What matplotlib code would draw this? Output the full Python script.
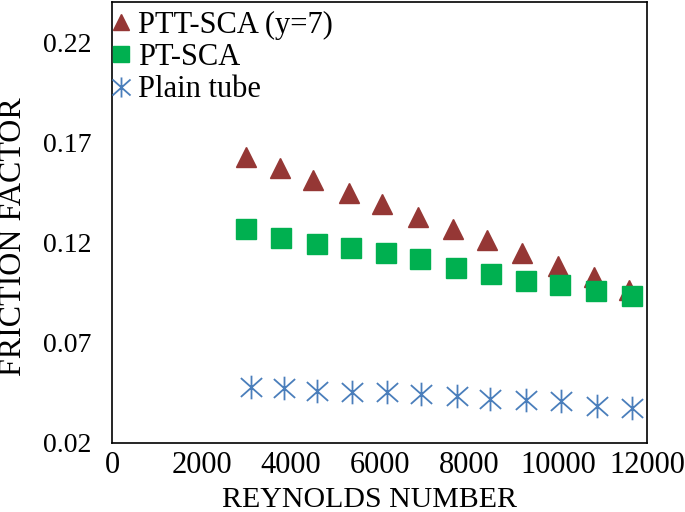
import matplotlib

matplotlib.use("Agg")

import matplotlib.pyplot as plt
from matplotlib.path import Path

# Reynolds numbers and friction factors
re_ptt = [3000, 3750, 4500, 5300, 6050, 6850, 7650, 8400, 9200, 10000, 10800, 11600]
f_ptt = [0.1625, 0.157, 0.151, 0.1445, 0.139, 0.1325, 0.1265, 0.121, 0.115, 0.1085, 0.103, 0.0965]

re_pt = [3000, 3780, 4580, 5350, 6130, 6900, 7700, 8500, 9280, 10050, 10850, 11650]
f_pt = [0.1265, 0.122, 0.1195, 0.1175, 0.115, 0.112, 0.1075, 0.1045, 0.101, 0.099, 0.096, 0.0935]

re_plain = [3100, 3850, 4600, 5370, 6150, 6920, 7720, 8480, 9270, 10060, 10860, 11650]
f_plain = [0.048, 0.0475, 0.046, 0.0455, 0.0455, 0.0445, 0.0435, 0.042, 0.0415, 0.041, 0.0385, 0.0375]

x_ticks = [0, 2000, 4000, 6000, 8000, 10000, 12000]
y_ticks = [0.02, 0.07, 0.12, 0.17, 0.22]

# Excel-style star: vertical bar plus an X
STAR = Path(
    [(0, -1), (0, 1), (-0.9, -0.8), (0.9, 0.8), (-0.9, 0.8), (0.9, -0.8)],
    [Path.MOVETO, Path.LINETO, Path.MOVETO, Path.LINETO, Path.MOVETO, Path.LINETO],
)

plt.rcParams["font.family"] = ["Liberation Serif", "DejaVu Serif"]

fig = plt.figure(figsize=(6.85, 5.12), dpi=100)
ax = fig.add_axes([0.164, 0.135, 0.781, 0.861])

ax.plot(re_ptt, f_ptt, linestyle="none", marker="^", markersize=14,
        color="#953735", label="PTT-SCA (y=7)")
ax.plot(re_pt, f_pt, linestyle="none", marker="s", markersize=14,
        color="#00B050", label="PT-SCA")
ax.plot(re_plain, f_plain, linestyle="none", marker=STAR, markersize=17,
        markeredgewidth=1.3, color="#4A7EBB", markerfacecolor="none",
        label="Plain tube")

ax.set_xlim(0, 12000)
ax.set_ylim(0.02, 0.24)
ax.set_xticks(x_ticks)
ax.set_yticks(y_ticks)
ax.set_yticklabels([f"{v:.2f}" for v in y_ticks])
ax.tick_params(axis="both", length=0)
ax.tick_params(axis="x", pad=6, labelsize=22)
ax.tick_params(axis="y", pad=15, labelsize=20)

for spine in ax.spines.values():
    spine.set_color("black")
    spine.set_linewidth(1.2)

ax.set_xlabel("REYNOLDS NUMBER", fontsize=21.5)
ax.set_ylabel("FRICTION FACTOR", fontsize=23)
ax.xaxis.set_label_coords(0.48, -0.1)
ax.yaxis.set_label_coords(-0.158, 0.467)

ax.legend(loc="upper left", bbox_to_anchor=(-0.012, 0.99), frameon=False,
          fontsize=22, handlelength=0.7, handletextpad=0.2, borderaxespad=0.0,
          labelspacing=0.1, markerscale=0.85, borderpad=0.15)

fig.savefig("out.png", dpi=100)
